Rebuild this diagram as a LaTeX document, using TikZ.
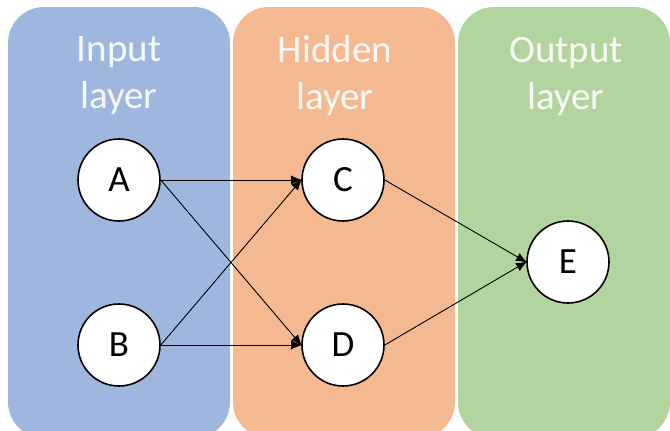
\documentclass[tikz,border=0pt]{standalone}
\usepackage{fontspec}
\setmainfont{Carlito}
\usetikzlibrary{arrows.meta}
\definecolor{pblue}{HTML}{9FB7DF}
\definecolor{porange}{HTML}{F4B990}
\definecolor{pgreen}{HTML}{B2D49F}
\tikzset{
  panel/.style={rounded corners=36pt, draw=none},
  title/.style={text=white, opacity=0.9, font=\fontsize{39}{47}\selectfont, align=center},
  neuron/.style={circle, draw=black, line width=1.6pt, fill=white, minimum size=82pt, inner sep=0pt, font=\fontsize{37}{40}\selectfont},
  link/.style={line width=0.9pt, -{Latex[length=11pt,width=9pt]}, shorten >=-1pt}
}
\begin{document}
\begin{tikzpicture}[x=1pt,y=-1pt]
\useasboundingbox (0,0) rectangle (670,431);
\fill[white] (0,0) rectangle (670,431);
\fill[pblue, panel] (8,7) rectangle (230,438);
\fill[porange, panel] (233,7) rectangle (455,438);
\fill[pgreen, panel] (458,7) rectangle (670,438);
\node[title] (t1) at (119,76) {Input\\layer};
\node[title] (t2) at (335,76) {Hidden\\layer};
\node[title] (t3) at (566,76) {Output\\layer};
\node[neuron] (A) at (119,180) {A};
\node[neuron] (B) at (119,345) {B};
\node[neuron] (C) at (343,180) {C};
\node[neuron] (D) at (343,345) {D};
\node[neuron] (E) at (568,262) {E};
\draw[link] (A.east) -- (C.west);
\draw[link] (A.east) -- (D.west);
\draw[link] (B.east) -- (C.west);
\draw[link] (B.east) -- (D.west);
\draw[link] (C.east) -- (E.west);
\draw[link] (D.east) -- (E.west);
\end{tikzpicture}
\end{document}
